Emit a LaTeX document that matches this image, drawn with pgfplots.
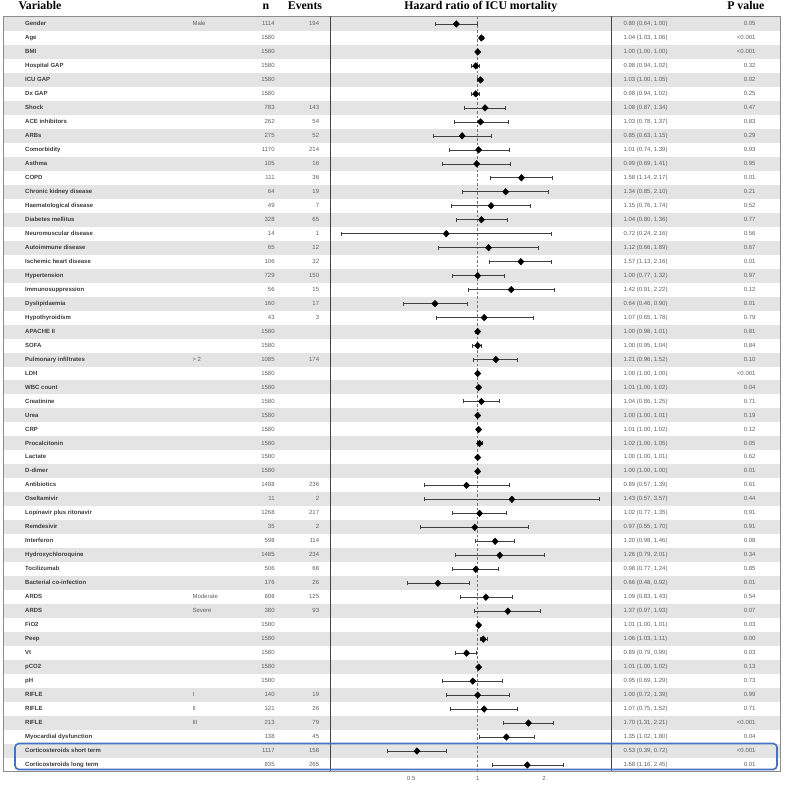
\documentclass[border=0pt]{standalone}
\usepackage{pgfplots}
\usepackage{pgfplotstable}
\pgfplotsset{compat=1.18}
\usepackage{fontspec}
\setmainfont{Liberation Sans}
\newfontfamily\hdrfont{Liberation Serif}

\definecolor{stripe}{HTML}{E4E4E4}
\definecolor{txtdark}{HTML}{3C3C3C}
\definecolor{txtgray}{HTML}{606060}
\definecolor{rulecol}{HTML}{444444}
\definecolor{outercol}{HTML}{8C8C8C}
\definecolor{hiblue}{RGB}{68,114,196}

% name; subgroup; n; events; HR; lower; upper; p
\pgfplotstableread[col sep=semicolon]{
name;sub;n;ev;hr;lo;hi;p
Gender;Male;1114;194;0.80;0.64;1.00;0.05
Age;;1580;;1.04;1.03;1.06;<0.001
BMI;;1580;;1.00;1.00;1.00;<0.001
Hospital GAP;;1580;;0.98;0.94;1.02;0.32
ICU GAP;;1580;;1.03;1.00;1.05;0.02
Dx GAP;;1580;;0.98;0.94;1.02;0.25
Shock;;783;143;1.08;0.87;1.34;0.47
ACE inhibitors;;262;54;1.03;0.78;1.37;0.83
ARBs;;275;52;0.85;0.63;1.15;0.29
Comorbidity;;1170;214;1.01;0.74;1.39;0.93
Asthma;;105;16;0.99;0.69;1.41;0.95
COPD;;111;36;1.58;1.14;2.17;0.01
Chronic kidney disease;;64;19;1.34;0.85;2.10;0.21
Haematological disease;;49;7;1.15;0.76;1.74;0.52
Diabetes mellitus;;328;65;1.04;0.80;1.36;0.77
Neuromuscular disease;;14;1;0.72;0.24;2.16;0.56
Autoimmune disease;;65;12;1.12;0.66;1.89;0.67
Ischemic heart disease;;106;32;1.57;1.13;2.16;0.01
Hypertension;;729;150;1.00;0.77;1.32;0.97
Immunosuppression;;56;15;1.42;0.91;2.22;0.12
Dyslipidaemia;;160;17;0.64;0.46;0.90;0.01
Hypothyroidism;;43;3;1.07;0.65;1.78;0.79
APACHE II;;1580;;1.00;0.98;1.01;0.81
SOFA;;1580;;1.00;0.95;1.04;0.84
Pulmonary infiltrates;> 2;1085;174;1.21;0.96;1.52;0.10
LDH;;1580;;1.00;1.00;1.00;<0.001
WBC count;;1580;;1.01;1.00;1.02;0.04
Creatinine;;1580;;1.04;0.86;1.25;0.71
Urea;;1580;;1.00;1.00;1.01;0.19
CRP;;1580;;1.01;1.00;1.02;0.12
Procalcitonin;;1580;;1.02;1.00;1.05;0.05
Lactate;;1580;;1.00;1.00;1.01;0.62
D-dimer;;1580;;1.00;1.00;1.00;0.01
Antibiotics;;1488;236;0.89;0.57;1.39;0.61
Oseltamivir;;11;2;1.43;0.57;3.57;0.44
Lopinavir plus ritonavir;;1268;217;1.02;0.77;1.35;0.91
Remdesivir;;35;2;0.97;0.55;1.70;0.91
Interferon;;598;114;1.20;0.98;1.46;0.08
Hydroxychloroquine;;1485;234;1.26;0.79;2.01;0.34
Tocilizumab;;506;68;0.98;0.77;1.24;0.85
Bacterial co-infection;;176;26;0.66;0.48;0.92;0.01
ARDS;Moderate;808;125;1.09;0.83;1.43;0.54
ARDS;Severe;380;93;1.37;0.97;1.93;0.07
FiO2;;1580;;1.01;1.00;1.01;0.03
Peep;;1580;;1.06;1.03;1.11;0.00
Vt;;1580;;0.89;0.79;0.99;0.03
pCO2;;1580;;1.01;1.00;1.02;0.13
pH;;1580;;0.95;0.69;1.29;0.73
RIFLE;I;140;19;1.00;0.72;1.39;0.99
RIFLE;II;121;26;1.07;0.75;1.52;0.71
RIFLE;III;213;79;1.70;1.31;2.21;<0.001
Myocardial dysfunction;;138;45;1.35;1.02;1.80;0.04
Corticosteroids short term;;1117;158;0.53;0.39;0.72;<0.001
Corticosteroids long term;;835;265;1.68;1.16;2.45;0.01
}\hrdata

\pgfplotsset{
  txtcol/.style={only marks, mark=none, nodes near coords,
    every node near coord/.append style={anchor=#1, inner sep=0pt,
      font=\fontsize{6}{7}\selectfont, text=txtgray,
      text height=4.4pt, text depth=1.2pt}},
}

\begin{document}
\begin{tikzpicture}
% table frame: x in pixels, y in row units
\begin{axis}[name=frame, at={(0,0)}, anchor=south west, scale only axis,
  width=784pt, height=786pt, xmin=0, xmax=784,
  ymin=-1.7167, ymax=54.5064, y dir=reverse,
  hide axis, clip=false, point meta=explicit symbolic]
\path (axis cs:0,-1.7167) rectangle (axis cs:784,54.5064);
\pgfplotsinvokeforeach{0,2,...,52}{
  \fill[stripe] (axis cs:3,#1-0.5) rectangle (axis cs:780,#1+0.5);
}
\addplot[txtcol=west, every node near coord/.append style={font=\fontsize{6}{7}\selectfont\bfseries, text=txtdark}]
  table[x expr=25, y expr=\coordindex, meta=name] {\hrdata};
\addplot[txtcol=west] table[x expr=192.3, y expr=\coordindex, meta=sub] {\hrdata};
\addplot[txtcol=east] table[x expr=274.8, y expr=\coordindex, meta=n] {\hrdata};
\addplot[txtcol=east] table[x expr=319.3, y expr=\coordindex, meta=ev] {\hrdata};
\addplot[txtcol=west, point meta=explicit,
  visualization depends on={\thisrow{lo}\as\cilo},
  visualization depends on={\thisrow{hi}\as\cihi},
  nodes near coords={\pgfmathprintnumber{\pgfplotspointmeta} (\pgfmathprintnumber{\cilo}, \pgfmathprintnumber{\cihi})},
  /pgf/number format/.cd, fixed, zerofill, precision=2, assume math mode=true]
  table[x expr=623.3, y expr=\coordindex, meta=hr] {\hrdata};
\addplot[txtcol=east] table[x expr=755.7, y expr=\coordindex, meta=p] {\hrdata};
\end{axis}

% forest plot
\begin{axis}[at={(330pt,14pt)}, anchor=south west, scale only axis,
  width=281.7pt, height=755pt, xmode=log, xmin=0.2136, xmax=4.059,
  ymin=-0.5, ymax=53.5, y dir=reverse, axis line style={draw=none},
  ytick=\empty, xtick={0.5,1,2}, xticklabels={0.5,1,2},
  major tick length=0pt, clip=false,
  xticklabel style={font=\fontsize{6}{7}\selectfont, text=txtgray, inner sep=0pt, yshift=-4.5pt},
  /pgf/number format/assume math mode=true]
\addplot[color=black!55, line width=0.7pt, dash pattern=on 2.5pt off 2pt]
  coordinates {(1,-0.5) (1,53.5)};
\addplot[only marks, mark=none,
  error bars/.cd, x dir=both, x explicit, error mark=|,
  error bar style={draw=black!75, line width=0.6pt, solid},
  error mark options={draw=black!75, line width=0.6pt, mark size=2pt}]
  table[x=hr, y expr=\coordindex,
    x error plus expr=\thisrow{hi}-\thisrow{hr},
    x error minus expr=\thisrow{hr}-\thisrow{lo}] {\hrdata};
\addplot[only marks, mark=diamond*, mark size=3.3pt, black,
  mark options={xscale=1.25}]
  table[x=hr, y expr=\coordindex] {\hrdata};
\end{axis}

% rules and header
\draw[outercol, line width=0.8pt] (3pt,15pt) rectangle (780pt,770pt);
\draw[rulecol, line width=0.9pt] (330pt,15pt) -- (330pt,770pt);
\draw[rulecol, line width=0.9pt] (611.7pt,15pt) -- (611.7pt,770pt);
\draw[hiblue, line width=1.6pt, rounded corners=4pt] (15pt,16.5pt) rectangle (777pt,42.5pt);

\begin{scope}[every node/.style={inner sep=0pt, font=\hdrfont\bfseries\fontsize{11.8}{13}\selectfont}]
\node[anchor=base west] at (18.3pt,776pt) {Variable};
\node[anchor=base] at (266pt,776pt) {n};
\node[anchor=base] at (305pt,776pt) {Events};
\node[anchor=base] at (480.8pt,776pt) {Hazard ratio of ICU mortality};
\node[anchor=base] at (745.8pt,776pt) {P value};
\end{scope}
\end{tikzpicture}
\end{document}
